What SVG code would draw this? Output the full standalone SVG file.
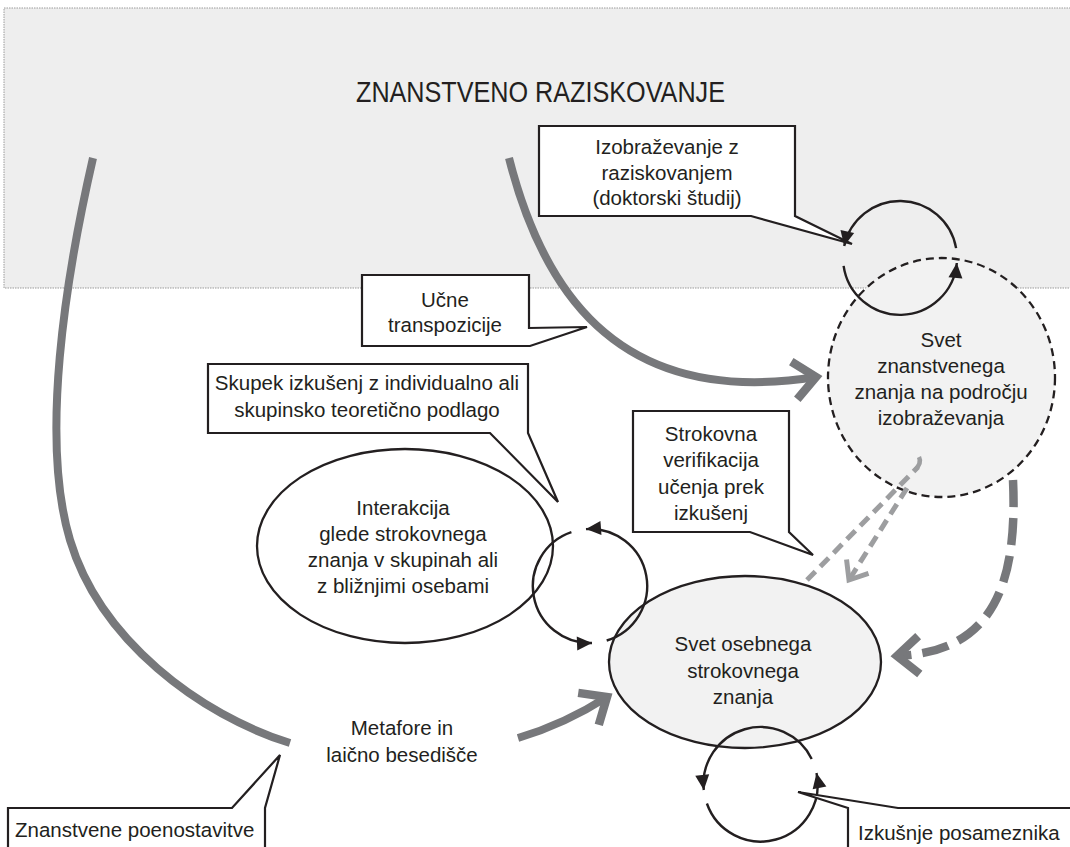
<svg xmlns="http://www.w3.org/2000/svg" width="1070" height="847" viewBox="0 0 1070 847">
<defs>
<style>
.t{font-family:"Liberation Sans",Arial,Helvetica,sans-serif;font-size:20.5px;fill:#231f20;text-anchor:middle}
.ts{text-anchor:start}
.box{fill:#fff;stroke:#231f20;stroke-width:2.2}
.gc{fill:none;stroke:#77787b;stroke-width:8}
.gd{fill:none;stroke:#77787b;stroke-width:8.5;stroke-dasharray:27 11}
.td{fill:none;stroke:#9d9ea0;stroke-width:5;stroke-dasharray:12 7}
.loop{fill:none;stroke:#231f20;stroke-width:2.4}
.node{stroke:#231f20;stroke-width:2.3}
</style>
<marker id="ah" markerUnits="userSpaceOnUse" orient="auto" refX="0" refY="0" markerWidth="16" markerHeight="14" overflow="visible"><path d="M-15,-7 L0,0 L-15,7 Z" fill="#231f20"/></marker>
<marker id="chev" markerUnits="userSpaceOnUse" orient="auto" refX="0" refY="0" markerWidth="30" markerHeight="30" overflow="visible"><path d="M-22,-19 L0,0 L-22,19" fill="none" stroke="#77787b" stroke-width="8.5"/></marker>
<marker id="chevs" markerUnits="userSpaceOnUse" orient="auto" refX="0" refY="0" markerWidth="20" markerHeight="20" overflow="visible"><path d="M-16,-13 L0,0 L-16,13" fill="none" stroke="#9d9ea0" stroke-width="5"/></marker>
</defs>

<g id="research-area">
<rect x="4" y="8" width="1070" height="280" fill="#eeeeee" stroke="#9a9a9a" stroke-width="1" stroke-dasharray="1.5 1"/>
<text class="t" x="540.5" y="102" style="font-size:30px" textLength="369" lengthAdjust="spacingAndGlyphs">ZNANSTVENO RAZISKOVANJE</text>
</g>

<g id="connectors">
<path class="gc" d="M93 158 C65 280 40 440 70 540 C100 640 200 715 290 743"/>
<path class="gc" d="M509 158 C540 280 610 410 816 377" marker-end="url(#chev)"/>
<path class="gc" d="M518 738 Q565 724 607 697" marker-end="url(#chev)"/>
</g>

<g id="node-znanstveno">
<ellipse class="node" cx="941.5" cy="377.5" rx="113.5" ry="119.5" fill="#f2f2f2" stroke-dasharray="8 5"/>
<text class="t" x="941" y="347">Svet</text>
<text class="t" x="941" y="373">znanstvenega</text>
<text class="t" x="941" y="399">znanja na področju</text>
<text class="t" x="941" y="425">izobraževanja</text>
</g>

<g id="node-interakcija">
<ellipse class="node" cx="405" cy="546" rx="148" ry="97" fill="#ffffff"/>
<text class="t" x="403" y="515">Interakcija</text>
<text class="t" x="403" y="541">glede strokovnega</text>
<text class="t" x="403" y="567">znanja v skupinah ali</text>
<text class="t" x="403" y="593">z bližnjimi osebami</text>
</g>

<g id="node-osebno">
<ellipse class="node" cx="745" cy="662" rx="136" ry="86" fill="#f2f2f2"/>
<text class="t" x="743" y="651">Svet osebnega</text>
<text class="t" x="743" y="678">strokovnega</text>
<text class="t" x="743" y="704">znanja</text>
</g>

<g id="connectors-2">
<path class="gd" d="M1013 480 C1018 590 990 652 897 656" marker-end="url(#chev)"/>
<path class="td" d="M807 580 L918 467"/>
<path fill="none" stroke="#9d9ea0" stroke-width="4.5" d="M915 470 Q922 463 919 457"/>
<path class="td" d="M907 488 L849 580" marker-end="url(#chevs)"/>
<path class="loop" d="M956.1 248.1 A57 57 0 0 0 844.2 246.1" marker-end="url(#ah)"/>
<path class="loop" d="M843.6 265.9 A57 57 0 0 0 956.8 263" marker-end="url(#ah)"/>
<path class="loop" d="M606.7 640.5 A57 57 0 0 0 586 529.1" marker-end="url(#ah)"/>
<path class="loop" d="M571.4 532.1 A57 57 0 0 0 592 643" marker-end="url(#ah)"/>
<path class="loop" d="M811.7 759 A57 57 0 0 0 703.8 790" marker-end="url(#ah)"/>
<path class="loop" d="M706.9 803.5 A57 57 0 0 0 816.5 773.1" marker-end="url(#ah)"/>
</g>

<g id="callout-doktorski">
<path class="box" d="M539 126 H795 V216 L852 244 L751 216 H539 Z"/>
<text class="t" x="667" y="154">Izobraževanje z</text>
<text class="t" x="667" y="180">raziskovanjem</text>
<text class="t" x="667" y="205">(doktorski študij)</text>
</g>

<g id="callout-ucne">
<path class="box" d="M362 275 H529 V328 L587 327 L530 346 H362 Z"/>
<text class="t" x="445" y="307">Učne</text>
<text class="t" x="445" y="332">transpozicije</text>
</g>

<g id="callout-skupek">
<path class="box" d="M208 364 H528 V433 L558 502 L490 433 H208 Z"/>
<text class="t" x="367" y="390">Skupek izkušenj z individualno ali</text>
<text class="t" x="367" y="417">skupinsko teoretično podlago</text>
</g>

<g id="callout-strokovna">
<path class="box" d="M633 411 H789 V532 L813 555 L750 532 H633 Z"/>
<text class="t" x="711" y="441">Strokovna</text>
<text class="t" x="711" y="467">verifikacija</text>
<text class="t" x="711" y="494">učenja prek</text>
<text class="t" x="711" y="520">izkušenj</text>
</g>

<g id="label-metafore">
<text class="t" x="402" y="735">Metafore in</text>
<text class="t" x="402" y="762">laično besedišče</text>
</g>

<g id="callout-poenostavitve">
<path class="box" d="M8 852 V808 H232 L280 755 L265 808 V852"/>
<text class="t ts" x="15" y="837">Znanstvene poenostavitve</text>
</g>

<g id="callout-izkusnje">
<path class="box" d="M848 852 V808 L798 792 L898 808 H1075 V852 Z"/>
<text class="t ts" x="858" y="840">Izkušnje posameznika</text>
</g>
</svg>
